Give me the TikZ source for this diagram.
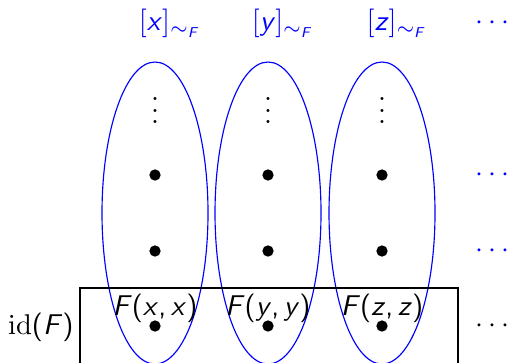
\documentclass[tikz,border=0pt]{standalone}
\usepackage{amsmath}
\usetikzlibrary{positioning}
\newcommand\sv[1]{\textsf{\textit{#1}}}
\tikzset{pt/.style={circle,fill=black,inner sep=1.4pt},cls/.style={draw=blue},lbl/.style={inner sep=0pt},more/.style={inner sep=0pt,font=\normalsize}}
\begin{document}
\begin{tikzpicture}[x=.35pt,y=-.35pt]
\useasboundingbox (0,0) rectangle (511,362);
\clip (0,0) rectangle (511,362);
% equivalence classes
\foreach \v/\c in {x/155,y/268,z/382}{
  \draw[cls] (\c,213) ellipse[x radius=18.55pt,y radius=52.85pt];
  \node[lbl,text=blue] (cls-\v) at (\c+15,23) {$[\sv{\v}]_{\sim_{\sv{F}}}$};
  \node[lbl] (vd-\v) at (\c,102) {$\vdots$};
  \node[pt] (a-\v) at (\c,175) {};
  \node[pt] (b-\v) at (\c,251) {};
  \node[pt] (d-\v) at (\c,326) {};
  \node[lbl] (F-\v) at (\c,308) {\textsf{\sv{F}(\sv{\v},\,\sv{\v})}};
}
\foreach \y/\n in {23/top,175/a,251/b}{\node[more,text=blue] (more-\n) at (495,\y) {$\cdots$};}
\node[more] (more-d) at (495,326) {$\cdots$};
% diagonal
\draw[semithick] (80,288) rectangle (458,380);
\node[lbl,anchor=east] (idF) at (74,327) {$\mathrm{id}$\textsf{(\sv{F})}};
\end{tikzpicture}
\end{document}
